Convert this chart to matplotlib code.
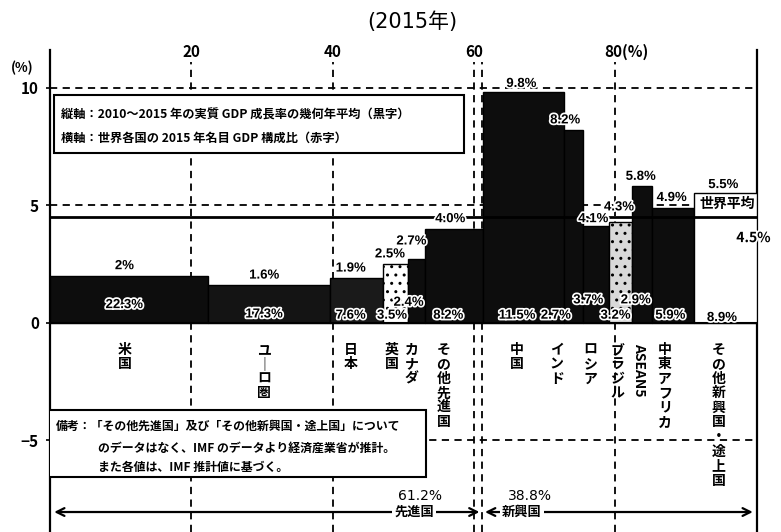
import matplotlib
matplotlib.use('Agg')
import matplotlib.pyplot as plt
import matplotlib.patheffects as pe
from matplotlib.patches import Rectangle, FancyArrowPatch

plt.rcParams['font.family'] = ['Noto Sans CJK JP', 'DejaVu Sans']

# ---------------- data ----------------
categories = ['米国', 'ユーロ圏', '日本', '英国', 'カナダ', 'その他先進国',
              '中国', 'インド', 'ロシア', 'ブラジル', 'ASEAN5', '中東アフリカ',
              'その他新興国・途上国']
shares = [22.3, 17.3, 7.6, 3.5, 2.4, 8.2, 11.5, 2.7, 3.7, 3.2, 2.9, 5.9, 8.9]
growth = [2.0, 1.6, 1.9, 2.5, 2.7, 4.0, 9.8, 8.2, 4.1, 4.3, 5.8, 4.9, 5.5]
growth_labels = ['2%', '1.6%', '1.9%', '2.5%', '2.7%', '4.0%', '9.8%', '8.2%',
                 '4.1%', '4.3%', '5.8%', '4.9%', '5.5%']
share_labels = ['22.3%', '17.3%', '7.6%', '3.5%', '2.4%', '8.2%', '11.5%', '2.7%',
                '3.7%', '3.2%', '2.9%', '5.9%', '8.9%']
world_avg = 4.5
adv_total = 61.2
emg_total = 38.8
xticks = [20, 40, 60, 80]
yticks = [10, 5, 0, -5]

# ---------------- style / layout ----------------
colors = ['#0d0d0d', '#141414', '#1a1a1a', '#ffffff', '#0d0d0d', '#0d0d0d',
          '#0d0d0d', '#0d0d0d', '#0d0d0d', '#d9d9d9', '#0d0d0d', '#0d0d0d', '#ffffff']
hatches = [None, None, None, '..', None, None, None, None, None, '..', None, None, None]
g_dx = [-0.6, -0.6, -0.8, -0.8, -0.7, -0.5, -0.3, -1.2, -0.4, -0.2, -0.2, -0.2, -0.3]
g_dy = [0.15, 0.15, 0.15, 0.15, 0.5, 0.15, 0.1, 0.15, 0.05, 0.35, 0.15, 0.15, 0.1]
s_dx = [-0.6, -0.6, -0.8, -0.5, -1.1, -0.8, -0.9, -2.5, -1.1, -0.7, -0.9, -0.4, -0.5]
s_y = [0.75, 0.35, 0.3, 0.3, 0.85, 0.3, 0.3, 0.3, 0.95, 0.3, 0.95, 0.3, 0.2]
c_dx = [-0.6, -0.6, -0.8, -0.6, -0.7, -1.5, -0.9, -2.4, -0.8, -0.5, -0.5, -1.2, -1.0]

W, H = 781, 532
fig = plt.figure(figsize=(W / 100, H / 100), dpi=100)
ax = fig.add_axes([50 / W, 0, 707 / W, 482 / H])
ax.set_xlim(0, 100.1)
ax.set_ylim(-8.9, 11.6)

halo = [pe.withStroke(linewidth=2.5, foreground='white')]

# grid dashed lines
for y in [10, 5, -5]:
    ax.plot([0, 100.1], [y, y], color='black', lw=1.3, ls=(0, (4, 3)), zorder=1)
for x in xticks + [adv_total]:
    ax.plot([x, x], [-8.9, 11.1], color='black', lw=1.3, ls=(0, (4, 3)), zorder=1)

# bars
lefts = []
acc = 0.0
for s in shares:
    lefts.append(acc)
    acc += s
bars = ax.bar(lefts, growth, width=shares, align='edge', color=colors,
              edgecolor='black', linewidth=1.0, zorder=3)
for b, h in zip(bars, hatches):
    if h:
        b.set_hatch(h)

ax.plot([0, 100.1], [0, 0], color='black', lw=1.5, zorder=4)

# world average line
ax.plot([0, 100.1], [world_avg, world_avg], color='black', lw=2.0, zorder=4)
ax.text(99.8, 5.05, '世界平均', ha='right', va='center', fontsize=10,
        fontweight='bold', zorder=6)
ax.text(99.6, 3.6, f'{world_avg}%', ha='center', va='center', fontsize=10,
        fontweight='bold', zorder=6, clip_on=False, path_effects=halo)

# value labels
for i in range(len(categories)):
    c = lefts[i] + shares[i] / 2
    ax.text(c + g_dx[i], growth[i] + g_dy[i], growth_labels[i], ha='center',
            va='bottom', fontsize=9.5, fontweight='bold', zorder=7,
            family=['Liberation Sans', 'DejaVu Sans'], path_effects=halo)
    ax.text(c + s_dx[i], s_y[i], share_labels[i], ha='center', va='center',
            fontsize=9.5, fontweight='bold', zorder=7,
            family=['Liberation Sans', 'DejaVu Sans'], path_effects=halo)
    name = categories[i]
    if name.isascii():
        ax.text(c + c_dx[i], -0.85, name, ha='center', va='top', rotation=-90,
                fontsize=10, fontweight='bold', zorder=7)
    else:
        vt = '\n'.join(ch if ch != 'ー' else '｜' for ch in name)
        ax.text(c + c_dx[i], -0.85, vt, ha='center', va='top', fontsize=10,
                fontweight='bold', linespacing=1.05, zorder=7)

# top note box
ax.add_patch(Rectangle((0.6, 7.2), 58.0, 2.5, facecolor='white',
                       edgecolor='black', lw=1.5, zorder=5))
ax.text(1.6, 8.85, '縦軸：2010～2015 年の実質 GDP 成長率の幾何年平均（黒字）',
        va='center', ha='left', fontsize=8.8, fontweight='bold', zorder=6)
ax.text(1.6, 7.85, '横軸：世界各国の 2015 年名目 GDP 構成比（赤字）',
        va='center', ha='left', fontsize=8.8, fontweight='bold', zorder=6)

# bottom note box
ax.add_patch(Rectangle((-0.3, -6.55), 53.5, 2.85, facecolor='white',
                       edgecolor='black', lw=1.5, zorder=5))
ax.text(0.8, -4.4, '備考：「その他先進国」及び「その他新興国・途上国」について',
        va='center', ha='left', fontsize=8.6, fontweight='bold', zorder=6)
ax.text(6.8, -5.35, 'のデータはなく、IMF のデータより経済産業省が推計。',
        va='center', ha='left', fontsize=8.6, fontweight='bold', zorder=6)
ax.text(6.8, -6.15, 'また各値は、IMF 推計値に基づく。',
        va='center', ha='left', fontsize=8.6, fontweight='bold', zorder=6)

# bottom arrows
ya = -8.05
ax.add_patch(FancyArrowPatch((0.2, ya), (adv_total, ya), arrowstyle='<->',
                             mutation_scale=14, lw=1.6, color='black', zorder=5))
ax.add_patch(FancyArrowPatch((adv_total, ya), (99.9, ya), arrowstyle='<->',
                             mutation_scale=14, lw=1.6, color='black', zorder=5))
ax.text(51.6, ya, '先進国', ha='center', va='center', fontsize=9.5,
        fontweight='bold', zorder=6,
        bbox=dict(facecolor='white', edgecolor='none', pad=1.5))
ax.text(66.8, ya, '新興国', ha='center', va='center', fontsize=9.5,
        fontweight='bold', zorder=6,
        bbox=dict(facecolor='white', edgecolor='none', pad=1.5))
ax.text(52.4, -7.35, f'{adv_total}%', ha='center', va='center', fontsize=10,
        zorder=6, family=['DejaVu Sans'])
ax.text(68.0, -7.35, f'{emg_total}%', ha='center', va='center', fontsize=10,
        zorder=6, family=['DejaVu Sans'])

# axes / ticks
for sp in ['top', 'bottom']:
    ax.spines[sp].set_visible(False)
for sp in ['left', 'right']:
    ax.spines[sp].set_linewidth(1.6)
ax.set_xticks([])
ax.set_yticks(yticks)
ax.set_yticklabels(['10', '5', '0', '−5'], fontsize=11, fontweight='bold')
ax.tick_params(axis='y', length=3, width=1.2, pad=5)

top_y = (H - 52) / 482
for x in xticks:
    lab = f'{x}' if x != 80 else '80(%)'
    ax.text(x - (0 if x != 80 else 1.5), top_y, lab, transform=ax.get_xaxis_transform(),
            ha='center' if x != 80 else 'left', va='center', fontsize=11,
            fontweight='bold', clip_on=False)

fig.text(22 / W, 1 - 68 / H, '(%)', ha='center', va='center', fontsize=9.5,
         fontweight='bold')
fig.text(412 / W, 1 - 22 / H, '(2015年)', ha='center', va='center', fontsize=15,
         family=['DejaVu Sans', 'Noto Sans CJK JP'])

fig.savefig('out.png', dpi=100)
